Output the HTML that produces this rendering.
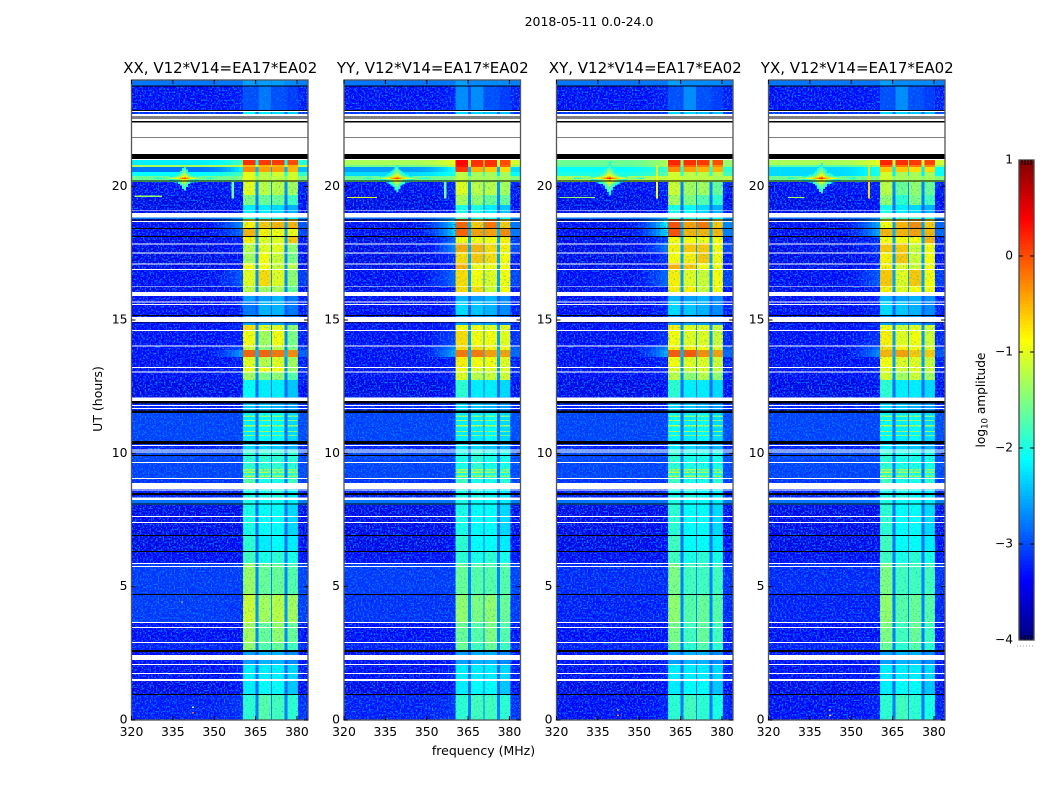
<!DOCTYPE html>
<html>
<head>
<meta charset="utf-8">
<title>2018-05-11 0.0-24.0</title>
<style>
html,body{margin:0;padding:0;background:#fff}
svg{display:block}
text{font-family:"DejaVu Sans","Liberation Sans",sans-serif;fill:#000}
</style>
</head>
<body>
<svg id="fig" xmlns="http://www.w3.org/2000/svg" width="1050" height="800" viewBox="0 0 1050 800">
<defs>
<filter id="noise-strong" x="0" y="0" width="100%" height="100%" color-interpolation-filters="sRGB">
<feTurbulence type="fractalNoise" baseFrequency="0.62" numOctaves="1" seed="4"/>
<feColorMatrix type="matrix" values="0 0 0 0 0  0 0 0 0 0.5  0 0 0 0 1  5 0 0 0 -2.4"/>
</filter>
<filter id="noise-weak" x="0" y="0" width="100%" height="100%" color-interpolation-filters="sRGB">
<feTurbulence type="fractalNoise" baseFrequency="0.62" numOctaves="1" seed="9"/>
<feColorMatrix type="matrix" values="0 0 0 0 0  0 0 0 0 0.7  0 0 0 0 0.8  2.4 0 0 0 -1.3"/>
</filter>
</defs>
<text x="589" y="26" font-size="12.5" text-anchor="middle">2018-05-11 0.0-24.0</text>
<text x="483.5" y="755" font-size="12.5" text-anchor="middle">frequency (MHz)</text>
<text x="102" y="399" font-size="12.5" text-anchor="middle" transform="rotate(-90 102 399)">UT (hours)</text>
<text x="985" y="400" font-size="12.2" text-anchor="middle" transform="rotate(-90 985 400)">log<tspan font-size="8.5" dy="2.5">10</tspan><tspan dy="-2.5"> amplitude</tspan></text>
<g id="panels"></g>
<g id="colorbar"></g>
</svg>
<script>
// ---------- chart data ----------
const panelTitles = ['XX, V12*V14=EA17*EA02', 'YY, V12*V14=EA17*EA02', 'XY, V12*V14=EA17*EA02', 'YX, V12*V14=EA17*EA02'];
const xTicks = [320, 335, 350, 365, 380];
const yTicks = [0, 5, 10, 15, 20];
const colorTicks = [1, 0, -1, -2, -3, -4];

// top edges and bottom edge of each time row, hours
const rowEdges = [24.00,23.77,22.87,22.72,21.00,20.81,20.74,20.55,20.40,20.17,19.69,19.31,18.86,18.79,18.45,18.15,17.89,17.55,17.14,16.91,16.27,16.05,15.71,15.19,14.81,14.59,14.02,13.87,13.61,13.24,13.05,12.75,12.11,11.51,10.46,10.12,9.07,8.89,8.25,8.06,6.90,6.34,5.89,4.72,3.67,2.92,2.55,2.10,1.46,0.97,0];
// spectral bands, MHz
const bandStarts = [360.5, 366, 371, 376.5];
const bandEnds = [365, 370.5, 375.5, 380.3];

// log10 amplitude per row: [background, near-band, band1, band2, band3, band4]
const levelsXX = [
[-2.5,-2.5,-2.6,-2.6,-2.6,-2.7],[-3.1,-3.0,-3.0,-2.8,-3.0,-3.1],[-2.9,-2.9,-2.1,-2.2,-2.3,-2.3],[-3,-3,-2.8,-2.8,-2.8,-2.8],
[-1.9,-1.5,0.15,0.1,0.1,0.0],[-1.0,-0.9,-0.5,-0.5,-0.5,-0.5],[-2.5,-1.9,-0.3,-0.4,-0.4,-0.5],[-1.8,-1.5,-1.0,-1.2,-1.1,-1.1],[-1.3,-1.2,-1.0,-1.2,-1.2,-1.1],
[-3.1,-3.0,-1.0,-1.2,-1.2,-1.3],[-3.2,-3.1,-1.5,-1.6,-1.6,-1.8],[-3.2,-3.1,-2.2,-2.2,-2.3,-2.5],[-2.5,-2.3,-2.0,-2.0,-2.1,-2.2],
[-3.1,-2.4,-0.8,-0.6,-0.5,-0.5],[-3.1,-2.6,-0.5,-0.8,-0.9,-0.9],[-3.2,-3.0,-0.8,-1.0,-1.0,-0.6],[-3.2,-3.0,-1.2,-1.0,-1.0,-1.4],[-3.2,-3.1,-1.3,-0.9,-1.1,-1.5],[-3.2,-3.1,-0.9,-0.9,-1.1,-1.2],[-3.1,-2.7,-1.0,-0.7,-1.0,-1.4],[-3.2,-3.0,-1.2,-1.3,-1.3,-1.6],
[-3.1,-3.0,-2.6,-2.6,-2.5,-2.8],[-3.1,-3.0,-2.8,-2.5,-2.5,-2.8],[-3.1,-3.0,-2.6,-2.6,-2.6,-2.8],
[-3.1,-3.0,-0.7,-1.0,-1.0,-1.4],[-3.1,-3.0,-0.9,-1.3,-0.9,-1.5],[-3.1,-2.8,-1.1,-1.4,-1.2,-1.5],[-3.1,-2.3,-0.1,-0.1,-0.2,-0.3],[-3.1,-3.0,-1.0,-1.2,-1.0,-1.3],[-3.1,-3.0,-0.9,-0.9,-0.9,-1.3],[-3.1,-3.0,-1.3,-1.5,-1.4,-1.7],
[-3.2,-3.1,-2.1,-2.2,-2.2,-2.4],[-3.0,-3.0,-2.4,-2.4,-2.5,-2.6],[-2.8,-2.8,-2.2,-2.1,-2.1,-2.3],[-3.0,-3.0,-2.3,-2.3,-2.4,-2.5],[-2.8,-2.8,-1.9,-1.9,-1.9,-1.9],[-2.9,-2.9,-1.7,-2.0,-2.0,-1.8],[-3.0,-3.0,-2.0,-2.0,-2.0,-2.2],[-2.5,-2.5,-2.0,-2.1,-2.1,-2.2],
[-3.2,-3.2,-2.0,-2.1,-2.1,-2.3],[-3.2,-3.1,-1.9,-2.2,-2.1,-2.2],[-3.1,-3.1,-1.8,-2.0,-1.9,-2.0],[-2.85,-2.85,-1.35,-1.6,-1.6,-1.7],[-2.85,-2.9,-1.1,-1.3,-1.2,-1.3],[-3.1,-3.1,-1.3,-1.6,-1.4,-1.6],[-3.0,-3.0,-1.4,-1.7,-1.6,-1.8],
[-3.1,-3.1,-2.6,-2.5,-2.5,-2.7],[-3.1,-3.0,-2.2,-2.2,-2.2,-2.3],[-3.2,-3.1,-2.2,-2.1,-2.1,-2.4],[-3.0,-2.9,-1.9,-1.7,-1.8,-1.9]
];
const levelsYY = [
[-2.5,-2.5,-2.6,-2.7,-2.7,-2.7],[-3.1,-3.0,-2.7,-2.7,-3.0,-3.1],[-2.9,-2.9,-2.3,-2.3,-2.4,-2.4],[-3,-3,-2.8,-2.8,-2.8,-2.8],
[-1.0,-0.7,0.35,0.15,0.15,0.0],[-1.3,-0.9,0.3,0.1,0.1,-0.1],[-2.3,-1.8,0.1,-0.5,-0.6,-0.7],[-2.0,-1.7,-1.2,-1.3,-1.3,-1.3],[-1.3,-1.2,-1.2,-1.3,-1.3,-1.3],
[-3.1,-3.0,-1.0,-1.2,-1.2,-1.3],[-3.2,-3.1,-1.3,-1.4,-1.6,-1.6],[-3.2,-3.1,-2.0,-2.0,-2.2,-2.4],[-2.6,-2.3,-1.8,-2.0,-2.0,-2.1],
[-3.1,-2.0,-0.1,-0.6,-0.2,-0.6],[-3.1,-2.0,-0.1,-0.4,-0.4,-0.3],[-3.2,-2.6,-0.9,-0.9,-0.9,-0.8],[-3.2,-2.4,-0.45,-0.5,-0.7,-0.8],[-3.2,-2.9,-0.7,-0.6,-0.7,-0.9],[-3.2,-3.0,-0.5,-0.9,-0.9,-0.9],[-3.1,-2.6,-0.7,-0.9,-1.0,-0.9],[-3.2,-3.0,-0.7,-0.7,-1.1,-0.9],
[-3.1,-3.0,-2.5,-2.6,-2.5,-2.7],[-3.1,-3.0,-2.3,-2.4,-2.5,-2.7],[-3.1,-3.0,-2.6,-2.6,-2.6,-2.8],
[-3.1,-3.0,-0.9,-0.9,-1.0,-1.0],[-3.1,-2.8,-0.7,-0.9,-0.9,-1.0],[-3.1,-2.4,-0.7,-0.7,-0.8,-0.9],[-3.1,-2.2,-0.2,-0.2,-0.4,-0.4],[-3.1,-3.0,-0.8,-0.9,-0.9,-1.0],[-3.1,-3.0,-0.9,-1.0,-1.0,-1.0],[-3.1,-3.0,-1.0,-1.2,-1.1,-1.1],
[-3.2,-3.1,-1.9,-2.2,-2.2,-2.3],[-3.0,-3.0,-2.3,-2.4,-2.5,-2.6],[-2.8,-2.8,-2.2,-2.2,-2.1,-2.3],[-3.0,-3.0,-2.2,-2.3,-2.4,-2.5],[-2.8,-2.8,-2.0,-1.9,-2.0,-2.0],[-2.9,-2.9,-1.8,-2.0,-2.0,-1.9],[-3.0,-3.0,-2.0,-2.0,-2.1,-2.2],[-2.5,-2.5,-2.0,-2.1,-2.1,-2.2],
[-3.2,-3.2,-2.0,-2.1,-2.1,-2.3],[-3.2,-3.1,-1.9,-2.1,-2.1,-2.2],[-3.1,-3.1,-1.9,-2.0,-1.9,-2.0],[-2.85,-2.85,-1.6,-1.7,-1.7,-1.7],[-2.9,-2.9,-1.4,-1.5,-1.4,-1.6],[-3.1,-3.1,-1.6,-1.7,-1.5,-1.7],[-3.0,-3.0,-1.6,-1.8,-1.6,-1.8],
[-3.1,-3.1,-2.6,-2.5,-2.5,-2.7],[-3.1,-3.0,-2.2,-2.2,-2.2,-2.3],[-3.2,-3.1,-2.2,-2.1,-2.1,-2.4],[-3.0,-2.9,-1.9,-1.8,-1.8,-1.9]
];
const levelsXY = [
[-2.5,-2.5,-2.6,-2.7,-2.7,-2.7],[-3.1,-3.0,-3.0,-2.7,-3.0,-3.1],[-2.9,-2.9,-2.3,-2.3,-2.4,-2.4],[-3,-3,-2.8,-2.8,-2.8,-2.8],
[-1.3,-1.0,0.2,0.15,0.1,0.0],[-1.4,-1.0,0.0,-0.1,-0.2,-0.3],[-1.8,-1.5,-0.3,-0.4,-0.5,-0.5],[-1.7,-1.4,-1.1,-1.2,-1.2,-1.2],[-1.0,-0.9,-1.1,-1.2,-1.2,-1.3],
[-3.1,-3.0,-1.1,-1.3,-1.3,-1.6],[-3.2,-3.1,-1.3,-1.5,-1.7,-1.9],[-3.2,-3.1,-2.0,-2.1,-2.3,-2.5],[-2.5,-2.3,-1.8,-2.0,-2.0,-2.1],
[-3.1,-1.8,0.0,-0.4,-0.2,-0.6],[-3.1,-1.9,0.0,-0.5,-0.5,-0.5],[-3.2,-2.8,-0.9,-0.9,-0.9,-0.9],[-3.2,-2.5,-0.8,-0.6,-0.6,-0.9],[-3.2,-2.9,-0.9,-0.8,-0.6,-0.9],[-3.2,-3.0,-0.5,-0.6,-0.9,-0.9],[-3.1,-2.6,-0.8,-1.0,-1.1,-0.9],[-3.2,-3.0,-0.8,-0.8,-1.1,-0.9],
[-3.1,-3.0,-2.5,-2.6,-2.5,-2.7],[-3.1,-3.0,-2.3,-2.4,-2.5,-2.7],[-3.1,-3.0,-2.6,-2.6,-2.6,-2.8],
[-3.1,-3.0,-0.8,-1.0,-1.0,-1.1],[-3.1,-2.9,-0.9,-1.0,-1.0,-1.1],[-3.1,-2.4,-0.8,-0.8,-0.9,-1.0],[-3.1,-2.2,-0.05,-0.05,-0.3,-0.4],[-3.1,-3.0,-0.9,-1.0,-1.0,-1.1],[-3.1,-3.0,-1.0,-1.1,-1.0,-1.1],[-3.1,-3.0,-1.2,-1.4,-1.2,-1.4],
[-3.2,-3.1,-1.9,-2.2,-2.2,-2.3],[-3.0,-3.0,-2.3,-2.4,-2.5,-2.6],[-2.8,-2.8,-2.1,-2.2,-2.1,-2.3],[-3.0,-3.0,-2.2,-2.3,-2.4,-2.5],[-2.8,-2.8,-1.9,-2.0,-2.0,-2.0],[-2.9,-2.9,-1.8,-2.0,-2.0,-1.9],[-3.0,-3.0,-2.0,-2.0,-2.1,-2.2],[-2.5,-2.5,-2.0,-2.1,-2.1,-2.2],
[-3.2,-3.2,-1.9,-2.1,-2.1,-2.3],[-3.2,-3.1,-1.8,-2.1,-2.1,-2.2],[-3.1,-3.1,-1.8,-2.0,-1.9,-2.0],[-2.95,-2.95,-1.5,-1.8,-1.8,-1.8],[-3.0,-3.0,-1.4,-1.7,-1.6,-1.7],[-3.1,-3.1,-1.5,-1.8,-1.6,-1.8],[-3.0,-3.0,-1.6,-1.9,-1.7,-1.9],
[-3.1,-3.1,-2.6,-2.5,-2.5,-2.7],[-3.1,-3.0,-2.2,-2.2,-2.2,-2.3],[-3.2,-3.1,-2.2,-2.1,-2.1,-2.4],[-3.1,-3.0,-1.9,-1.8,-1.9,-2.0]
];
const levelsYX = [
[-2.5,-2.5,-2.6,-2.7,-2.7,-2.7],[-3.1,-3.0,-3.0,-2.7,-3.0,-3.1],[-2.9,-2.9,-2.3,-2.3,-2.4,-2.4],[-3,-3,-2.8,-2.8,-2.8,-2.8],
[-1.0,-0.7,0.2,0.15,0.1,0.05],[-1.4,-1.0,-0.1,-0.2,-0.2,-0.3],[-2.0,-1.7,-0.6,-0.6,-0.7,-0.7],[-2.0,-1.7,-1.1,-1.3,-1.3,-1.3],[-1.3,-1.2,-1.1,-1.3,-1.3,-1.3],
[-3.1,-3.0,-1.2,-1.6,-1.4,-1.6],[-3.2,-3.1,-1.4,-1.9,-1.5,-1.8],[-3.2,-3.1,-2.0,-2.2,-2.3,-2.5],[-2.6,-2.4,-1.6,-1.9,-1.9,-1.9],
[-3.1,-2.2,-0.9,-0.5,-0.3,-0.6],[-3.1,-2.2,-0.5,-0.5,-0.4,-0.5],[-3.2,-2.9,-0.9,-0.9,-0.9,-0.5],[-3.2,-2.9,-0.6,-0.6,-1.1,-0.9],[-3.2,-3.0,-0.8,-0.6,-1.1,-0.9],[-3.2,-3.0,-0.8,-1.0,-1.1,-0.9],[-3.1,-2.7,-0.6,-1.0,-0.6,-0.9],[-3.2,-3.0,-0.8,-1.0,-0.9,-0.9],
[-3.1,-3.0,-2.5,-2.6,-2.5,-2.7],[-3.1,-3.0,-2.3,-2.4,-2.5,-2.7],[-3.1,-3.0,-2.6,-2.6,-2.6,-2.8],
[-3.1,-3.0,-0.9,-1.1,-1.0,-1.1],[-3.1,-2.9,-0.8,-1.0,-0.9,-1.1],[-3.1,-2.6,-0.7,-0.8,-0.9,-1.0],[-3.1,-2.4,-0.5,-0.4,-0.6,-0.6],[-3.1,-3.0,-0.9,-1.0,-1.0,-1.1],[-3.1,-3.0,-1.0,-1.1,-1.0,-1.1],[-3.1,-3.0,-1.1,-1.3,-1.1,-1.3],
[-3.2,-3.1,-1.9,-2.2,-2.2,-2.3],[-3.0,-3.0,-2.3,-2.4,-2.5,-2.6],[-2.8,-2.8,-2.1,-2.2,-2.1,-2.3],[-3.0,-3.0,-2.2,-2.3,-2.4,-2.5],[-2.8,-2.8,-1.9,-2.0,-2.0,-2.0],[-2.9,-2.9,-1.8,-2.0,-2.0,-1.9],[-3.0,-3.0,-2.0,-2.0,-2.1,-2.2],[-2.5,-2.5,-2.0,-2.1,-2.1,-2.2],
[-3.2,-3.2,-1.9,-2.1,-2.1,-2.3],[-3.2,-3.1,-1.8,-2.1,-2.1,-2.2],[-3.1,-3.1,-1.8,-2.0,-1.9,-2.0],[-2.95,-2.95,-1.5,-1.8,-1.8,-1.8],[-3.0,-3.0,-1.4,-1.7,-1.6,-1.7],[-3.1,-3.1,-1.5,-1.8,-1.6,-1.8],[-3.0,-3.0,-1.6,-1.9,-1.7,-1.9],
[-3.1,-3.1,-2.6,-2.5,-2.5,-2.7],[-3.1,-3.0,-2.2,-2.2,-2.2,-2.3],[-3.2,-3.1,-2.2,-2.1,-2.1,-2.4],[-3.1,-3.0,-1.9,-1.8,-1.9,-2.0]
];

// bright thin stripes across the bands, hours and level
const stripeHours = [11.41, 11.25, 11.06, 10.84, 10.69, 9.41, 9.31, 9.16];
const stripeLevels = [-1.4, -1.3, -1.2, -1.3, -1.4, -1.3, -1.2, -1.2];

// blanked (white) and flagged (black) time spans, hours [start, end]
const blankSpans = [[22.84,22.80],[22.73,22.63],[22.59,22.55],[22.53,22.47],[22.40,21.86],[21.84,21.23],[21.04,21.00],[19.13,19.10],[19.01,18.85],[18.71,18.68],[17.87,17.84],[17.53,17.50],[17.12,17.09],[16.91,16.88],[16.26,16.23],[16.05,15.90],[15.69,15.66],[15.60,15.56],[15.11,14.93],[14.63,14.59],[14.04,14.01],[13.24,13.20],[13.07,13.04],[12.09,11.96],[11.81,11.78],[11.70,11.66],[10.31,10.28],[10.14,10.11],[10.07,10.03],[9.68,9.64],[9.08,9.04],[8.88,8.67],[8.64,8.61],[8.34,8.25],[7.65,7.61],[7.43,7.39],[5.89,5.85],[5.78,5.74],[3.68,3.64],[3.49,3.45],[2.93,2.89],[2.44,2.25],[2.10,2.06],[1.76,1.73],[1.54,1.46]];
const flaggedSpans = [[23.79,23.76],[22.88,22.84],[22.63,22.59],[22.55,22.53],[22.47,22.40],[21.86,21.84],[21.23,21.04],[20.23,20.19],[18.77,18.73],[18.45,18.42],[18.15,18.11],[15.19,15.15],[14.91,14.88],[11.96,11.86],[11.60,11.51],[10.46,10.35],[9.94,9.90],[8.51,8.44],[8.12,8.08],[6.94,6.90],[6.34,6.30],[4.73,4.69],[2.63,2.55],[0.98,0.94]];

// strong interference near 339 MHz, one per panel
const rfiFreq = [338.8, 338.8, 338.8, 338.8];
const rfiHour = [20.28, 20.28, 20.28, 20.28];
const rfiPeak = [0.35, 0.45, 0.6, 0.55];
// narrow vertical line near 356 MHz, one per panel
const lineFreq = [356.3, 356.3, 356, 356];
const lineTop = [20.4, 20.4, 20.8, 20.8];
const lineBottom = [19.55, 19.55, 19.55, 19.55];
const lineLevel = [-1.6, -1.6, -0.9, -0.7];
// faint horizontal streak near 19.6 h, one per panel
const streakStart = [321, 321, 321, 327];
const streakEnd = [331, 332, 334, 333];
const streakHour = [19.66, 19.62, 19.62, 19.62];
const streakLevel = [-1.4, -1.1, -1.4, -1.4];
// isolated hot channels: panel, MHz, hour, level
const hotPanel = [0, 0, 2, 3, 2, 3, 0];
const hotFreq = [342, 342, 342, 342, 342, 342, 338];
const hotHour = [0.25, 0.45, 0.15, 0.15, 0.35, 0.35, 4.4];
const hotLevel = [-0.2, -1.3, -0.3, -0.6, -0.9, -0.9, -1.4];

// ---------- axes ----------
const panelLeft = [131.5, 344, 556.5, 768.5];
const panelWidth = 176.5;
const plotTop = 80;
const plotBottom = 720;
const svgNS = 'http://www.w3.org/2000/svg';
const freqMax = 384;
const backgroundOffset = -0.3;
function xScale(panel, f) { return panelLeft[panel] + (f - 320) * panelWidth / (freqMax - 320); }
function yScale(h) { return plotBottom - h * (plotBottom - plotTop) / 24; }
function jet(v) {
  const t = Math.min(1, Math.max(0, (v + 4) / 5));
  const c = k => Math.round(255 * Math.min(1, Math.max(0, 1.5 - Math.abs(4 * t - k))));
  return 'rgb(' + c(3) + ',' + c(2) + ',' + c(1) + ')';
}
function mk(tag, parent) {
  const el = document.createElementNS(svgNS, tag);
  parent.appendChild(el);
  return el;
}
function box(parent, x0, y0, x1, y1, fill, name) {
  const el = mk('rect', parent);
  el.setAttribute('x', x0);
  el.setAttribute('y', y0);
  el.setAttribute('width', Math.max(0, x1 - x0));
  el.setAttribute('height', Math.max(0, y1 - y0));
  el.setAttribute('fill', fill);
  el.setAttribute('shape-rendering', 'crispEdges');
  
  
  return el;
}
function heat(parent, p, f0, f1, h0, h1, level, name) {
  return box(parent, xScale(p, f0), yScale(h0), xScale(p, f1), yScale(h1), jet(level), name);
}
function segment(parent, x1, y1, x2, y2, color, width, name) {
  const el = mk('line', parent);
  el.setAttribute('x1', x1);
  el.setAttribute('y1', y1);
  el.setAttribute('x2', x2);
  el.setAttribute('y2', y2);
  el.setAttribute('stroke', color);
  el.setAttribute('stroke-width', width);
  
  
  return el;
}
function label(parent, x, y, str, size, anchor, name) {
  const el = mk('text', parent);
  el.setAttribute('x', x);
  el.setAttribute('y', y);
  el.setAttribute('font-size', size);
  el.setAttribute('text-anchor', anchor);
  el.textContent = str;
  
  
  return el;
}
const minus = v => String(v).replace('-', '\u2212');
function drawRow(g, p, r, i) {
  const h0 = rowEdges[i], h1 = rowEdges[i + 1];
  const bg = r[0] + backgroundOffset, near = r[1] + backgroundOffset;
  const bands = r.slice(2);
  heat(g, p, 320, 344, h0, h1, bg, 'background-cell');
  for (let f = 344; f < 360.5; f += 1.5) {
    const u = Math.min(1, (f - 344) / 15);
    heat(g, p, f, Math.min(360.5, f + 1.5), h0, h1, bg + (near - bg) * u * u, 'ramp-cell');
  }
  const gap = Math.max(bg + 0.1, Math.min(...bands) * 0.2 - 2.4);
  heat(g, p, bandEnds[0], bandStarts[1], h0, h1, gap, 'band-gap-cell');
  heat(g, p, bandEnds[1], bandStarts[2], h0, h1, gap, 'band-gap-cell');
  heat(g, p, bandEnds[2], bandStarts[3], h0, h1, gap, 'band-gap-cell');
  bands.forEach((v, b) => {
    heat(g, p, bandStarts[b], bandEnds[b], h0, h1, v, 'band-' + (b + 1) + '-cell');
  });
  heat(g, p, bandEnds[3], freqMax, h0, h1, (bg + near) / 2 + 0.05, 'right-background-cell');
}

// ---------- panels ----------
const allLevels = [levelsXX, levelsYY, levelsXY, levelsYX];
const panelKeys = ['xx', 'yy', 'xy', 'yx'];
const panelsGroup = document.getElementById('panels');
allLevels.forEach((levels, p) => {
  const key = panelKeys[p];
  const g = mk('g', panelsGroup);
  
  

  levels.forEach((r, i) => {
    if (r[0] <= -2.6) drawRow(g, p, r, i);
  });
  stripeHours.forEach((h, k) => {
    bandStarts.forEach((s, b) => {
      heat(g, p, s, bandEnds[b], h, h - 0.045, stripeLevels[k] - b * 0.05, 'band-stripe');
    });
  });

  // texture overlays
  const n1 = box(g, xScale(p, 320), plotTop, xScale(p, 360.5), plotBottom, '#000', 'background-noise');
  n1.setAttribute('filter', 'url(#noise-strong)');
  const n2 = box(g, xScale(p, 380.3), plotTop, xScale(p, freqMax), plotBottom, '#000', 'background-noise');
  n2.setAttribute('filter', 'url(#noise-strong)');
  const n3 = box(g, xScale(p, 360.5), plotTop, xScale(p, 380.3), plotBottom, '#000', 'band-noise');
  n3.setAttribute('filter', 'url(#noise-weak)');

  // bright, smooth rows sit above the texture
  levels.forEach((r, i) => {
    if (r[0] > -2.6) drawRow(g, p, r, i);
  });

  // interference star
  for (let df = -14; df <= 14; df += 0.75) {
    for (let dh = -0.9; dh <= 0.9; dh += 0.06) {
      const lv = rfiPeak[p] - 3.0 * Math.sqrt(Math.abs(dh)) - 0.75 * Math.sqrt(Math.abs(df));
      if (lv > -2.1) {
        heat(g, p, rfiFreq[p] + df, rfiFreq[p] + df + 0.75, rfiHour[p] + dh + 0.06, rfiHour[p] + dh, lv, 'rfi-cell');
      }
    }
  }
  heat(g, p, lineFreq[p], lineFreq[p] + 0.8, lineTop[p], lineBottom[p], lineLevel[p], 'narrow-rfi-line');
  heat(g, p, streakStart[p], streakEnd[p], streakHour[p], streakHour[p] - 0.05, streakLevel[p], 'rfi-streak');
  hotFreq.forEach((f, k) => {
    if (hotPanel[k] === p) heat(g, p, f, f + 0.6, hotHour[k] + 0.05, hotHour[k], hotLevel[k], 'hot-channel');
  });

  blankSpans.forEach(s => {
    box(g, xScale(p, 320), yScale(s[0]), xScale(p, freqMax), yScale(s[1]), '#fff', 'blank-row');
  });
  flaggedSpans.forEach(s => {
    box(g, xScale(p, 320), yScale(s[0]), xScale(p, freqMax), yScale(s[1]), '#000', 'flagged-row');
  });

  // frame
  const frame = mk('rect', g);
  frame.setAttribute('x', panelLeft[p]);
  frame.setAttribute('y', plotTop);
  frame.setAttribute('width', panelWidth);
  frame.setAttribute('height', plotBottom - plotTop);
  frame.setAttribute('fill', 'none');
  frame.setAttribute('stroke', '#555');
  frame.setAttribute('stroke-width', '1.3');
  
  

  xTicks.forEach(t => {
    const x = xScale(p, t);
    segment(g, x, plotBottom, x, plotBottom - 4, '#000', 1, 'x-tick');
    segment(g, x, plotTop, x, plotTop + 4, '#000', 1, 'x-tick');
    label(g, x, 736, String(t), 12.4, 'middle', 'x-tick-label');
  });
  yTicks.forEach(t => {
    const y = yScale(t);
    segment(g, panelLeft[p], y, panelLeft[p] + 4, y, '#000', 1, 'y-tick');
    segment(g, panelLeft[p] + panelWidth, y, panelLeft[p] + panelWidth - 4, y, '#000', 1, 'y-tick');
    label(g, panelLeft[p] - 4, y + 3.5, String(t), 12.4, 'end', 'y-tick-label');
  });
  label(g, panelLeft[p] + panelWidth / 2 + 0.5, 73, panelTitles[p], 15, 'middle', 'panel-title');
});

// ---------- colorbar ----------
const cbLeft = 1019, cbRight = 1034, cbTop = 160, cbBottom = 640;
const cbValue = y => 1 - 5 * (y - cbTop) / (cbBottom - cbTop);
const cb = document.getElementById('colorbar');
for (let y = cbTop; y < cbBottom; y += 3) {
  box(cb, cbLeft, y, cbRight, y + 3, jet(cbValue(y + 1.5)), 'colorbar-segment');
}
const cbFrame = mk('rect', cb);
cbFrame.setAttribute('x', cbLeft);
cbFrame.setAttribute('y', cbTop);
cbFrame.setAttribute('width', cbRight - cbLeft);
cbFrame.setAttribute('height', cbBottom - cbTop);
cbFrame.setAttribute('fill', 'none');
cbFrame.setAttribute('stroke', '#444');
cbFrame.setAttribute('stroke-width', '1.3');


colorTicks.forEach(v => {
  const y = cbTop + (1 - v) * (cbBottom - cbTop) / 5;
  if (v !== 1 && v !== -4) {
    segment(cb, cbLeft, y, cbLeft + 4, y, '#000', 1, 'colorbar-tick');
    segment(cb, cbRight, y, cbRight - 4, y, '#000', 1, 'colorbar-tick');
  }
  label(cb, 1013, y + 3.5, minus(v), 12.2, 'end', 'colorbar-tick-label');
});
[1022, 1025, 1028, 1031].forEach(x => {
  segment(cb, x, cbTop, x, cbTop + 5, '#000', 1, 'colorbar-minor-tick');
  segment(cb, x, cbBottom, x, cbBottom - 5, '#000', 1, 'colorbar-minor-tick');
});
const cbDots = mk('line', cb);
cbDots.setAttribute('x1', 1017);
cbDots.setAttribute('y1', 646);
cbDots.setAttribute('x2', 1035);
cbDots.setAttribute('y2', 646);
cbDots.setAttribute('stroke', '#999');
cbDots.setAttribute('stroke-width', '1');
cbDots.setAttribute('stroke-dasharray', '1 2');


</script>
</body>
</html>
